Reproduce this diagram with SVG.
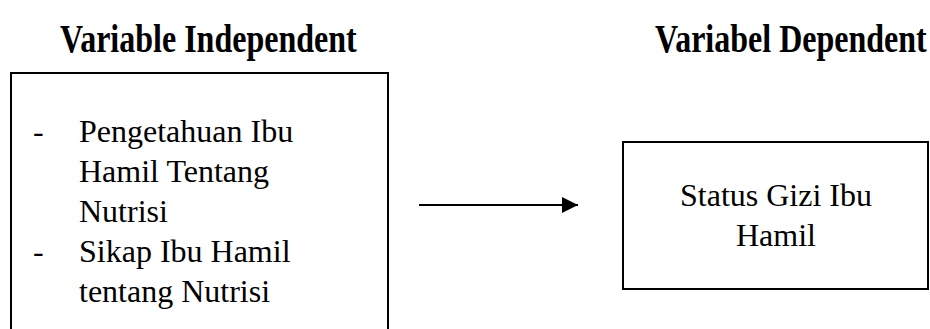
<svg xmlns="http://www.w3.org/2000/svg" width="930" height="329" viewBox="0 0 930 329">
  <style>
    .head { font-family: "Liberation Serif", "Times New Roman", serif; font-weight: bold; font-size: 32px; fill: #000; }
    .body { font-family: "Liberation Serif", "Times New Roman", serif; font-size: 32px; fill: #000; }
    .box { fill: #fff; stroke: #000; stroke-width: 2; }
    .link { stroke: #000; stroke-width: 2; fill: none; }
  </style>
  <defs>
    <marker id="arrow" markerUnits="userSpaceOnUse" markerWidth="17" markerHeight="16" refX="16" refY="8" orient="auto">
      <path d="M0,0 L16,8 L0,16 Z" fill="#000"/>
    </marker>
  </defs>
  <rect width="930" height="329" fill="#fff"/>

  <!-- column headings (tall, narrow bold face) -->
  <g id="heading-independent" transform="translate(60,52) scale(1,1.28)">
    <text class="head" x="0" y="0">Variable Independent</text>
  </g>
  <g id="heading-dependent" transform="translate(655,52) scale(1,1.28)">
    <text class="head" x="0" y="0">Variabel Dependent</text>
  </g>

  <!-- independent variables (box runs past the lower edge) -->
  <g id="node-independent">
    <rect class="box" x="11" y="73" width="377" height="280"/>
    <text class="body" x="33" y="142">-</text>
    <text class="body" x="79" y="142">Pengetahuan Ibu</text>
    <text class="body" x="79" y="182">Hamil Tentang</text>
    <text class="body" x="79" y="222">Nutrisi</text>
    <text class="body" x="33" y="262">-</text>
    <text class="body" x="79" y="262">Sikap Ibu Hamil</text>
    <text class="body" x="79" y="302">tentang Nutrisi</text>
  </g>

  <!-- dependent variable -->
  <g id="node-dependent">
    <rect class="box" x="623" y="142" width="305" height="147"/>
    <text class="body" x="776" y="206" text-anchor="middle">Status Gizi Ibu</text>
    <text class="body" x="776" y="246" text-anchor="middle">Hamil</text>
  </g>

  <g id="connectors">
    <line class="link" x1="419" y1="205" x2="578" y2="205" marker-end="url(#arrow)"/>
  </g>
</svg>
